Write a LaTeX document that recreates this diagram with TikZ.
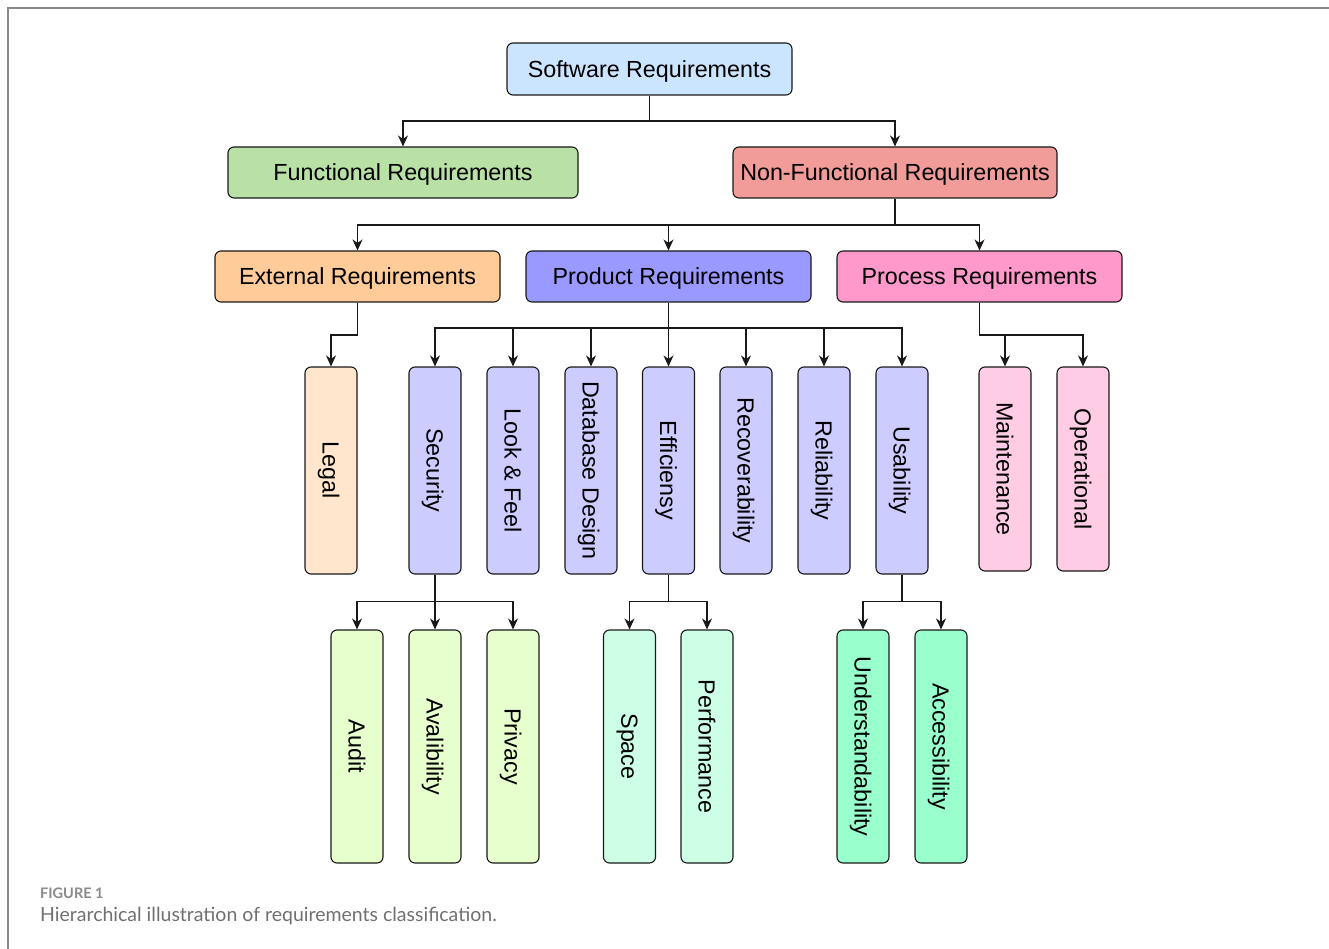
\documentclass[tikz,border=0pt]{standalone}
\usepackage{fontspec}
\setmainfont{Liberation Sans}
\newfontfamily\capfont{Lato}
\usetikzlibrary{arrows.meta}
\definecolor{cSW}{HTML}{CCE5FF}
\definecolor{cFR}{HTML}{B9E0A5}
\definecolor{cNF}{HTML}{F19C99}
\definecolor{cEX}{HTML}{FFCC99}
\definecolor{cPR}{HTML}{9999FF}
\definecolor{cPC}{HTML}{FF99CC}
\definecolor{cLG}{HTML}{FFE6CC}
\definecolor{cPD}{HTML}{CCCCFF}
\definecolor{cPS}{HTML}{FFCCE6}
\definecolor{cSC}{HTML}{E6FFCC}
\definecolor{cEF}{HTML}{CCFFE6}
\definecolor{cUS}{HTML}{99FFCC}
\definecolor{frameg}{HTML}{8A8A8A}
\definecolor{capg}{HTML}{707070}
\tikzset{
  lblfont/.style={font=\fontsize{23.3}{27}\selectfont},
  box/.style={draw=black!90, line width=1.1pt, rounded corners=6pt, inner sep=0pt,
    lblfont, text=black, text depth=0pt},
  hbox/.style={box, minimum width=285pt, minimum height=51pt},
  vbox/.style={box, minimum width=52pt},
  vl/.style={rotate=-90, lblfont, text depth=0pt},
  conn/.style={line width=1.3pt, draw=black!90, -{Stealth[length=11pt,width=10pt,inset=3.5pt]}},
}
\begin{document}
\begin{tikzpicture}[x=1pt,y=-1pt]
\useasboundingbox (0,0) rectangle (1329,949);
\fill[white] (0,0) rectangle (1329,949);
\draw[frameg, line width=2pt] (8,949) -- (8,8) -- (1329,8);

% level 0-2
\node[hbox, fill=cSW, minimum height=52pt] (sw) at (649.5,69) {Software Requirements};
\node[hbox, fill=cFR, minimum width=350pt] (fr) at (403,172.5) {Functional Requirements};
\node[hbox, fill=cNF, minimum width=324pt] (nf) at (895,172.5) {Non-Functional Requirements};
\node[hbox, fill=cEX] (ex) at (357.5,276.5) {External Requirements};
\node[hbox, fill=cPR] (pr) at (668.5,276.5) {Product Requirements};
\node[hbox, fill=cPC] (pc) at (979.5,276.5) {Process Requirements};

% level 3
\tikzset{r3/.style={vbox, minimum height=207pt}}
\node[r3, fill=cLG, label={[vl]center:Legal}] (lg) at (331,470.5) {};
\node[r3, fill=cPD, label={[vl]center:Security}] (se) at (435,470.5) {};
\node[r3, fill=cPD, label={[vl]center:Look \& Feel}] (lf) at (513,470.5) {};
\node[r3, fill=cPD, label={[vl]center:Database Design}] (db) at (591,470.5) {};
\node[r3, fill=cPD, label={[vl]center:Efficiensy}] (ef) at (668.5,470.5) {};
\node[r3, fill=cPD, label={[vl]center:Recoverability}] (rc) at (746,470.5) {};
\node[r3, fill=cPD, label={[vl]center:Reliability}] (rl) at (824,470.5) {};
\node[r3, fill=cPD, label={[vl]center:Usability}] (us) at (902,470.5) {};
\node[vbox, minimum height=204pt, fill=cPS, label={[vl]center:Maintenance}] (mt) at (1005,469) {};
\node[vbox, minimum height=204pt, fill=cPS, label={[vl]center:Operational}] (op) at (1083,469) {};

% level 4
\tikzset{r4/.style={vbox, minimum height=233pt}}
\node[r4, fill=cSC, label={[vl]center:Audit}] (au) at (357,746.5) {};
\node[r4, fill=cSC, label={[vl]center:Avalibility}] (av) at (435,746.5) {};
\node[r4, fill=cSC, label={[vl]center:Privacy}] (pv) at (513,746.5) {};
\node[r4, fill=cEF, label={[vl]center:Space}] (sp) at (629.5,746.5) {};
\node[r4, fill=cEF, label={[vl]center:Performance}] (pf) at (707,746.5) {};
\node[r4, fill=cUS, label={[vl]center:Understandability}] (ud) at (863,746.5) {};
\node[r4, fill=cUS, label={[vl]center:Accessibility}] (ac) at (941,746.5) {};

% bus levels
\coordinate (b0) at (0,121);
\coordinate (b1) at (0,225);
\coordinate (b2) at (0,335);
\coordinate (b3) at (0,328);
\coordinate (b4) at (0,335);
\coordinate (b5) at (0,601.5);

% connectors
\foreach \t in {fr,nf} \draw[conn] (sw.south) -- (sw.south |- b0) -| (\t.north);
\foreach \t in {ex,pr,pc} \draw[conn] (nf.south) -- (nf.south |- b1) -| (\t.north);
\draw[conn] (ex.south) -- (ex.south |- b2) -| (lg.north);
\foreach \t in {se,lf,db,ef,rc,rl,us} \draw[conn] (pr.south) -- (pr.south |- b3) -| (\t.north);
\foreach \t in {mt,op} \draw[conn] (pc.south) -- (pc.south |- b4) -| (\t.north);
\foreach \t in {au,av,pv} \draw[conn] (se.south) -- (se.south |- b5) -| (\t.north);
\foreach \t in {sp,pf} \draw[conn] (ef.south) -- (ef.south |- b5) -| (\t.north);
\foreach \t in {ud,ac} \draw[conn] (us.south) -- (us.south |- b5) -| (\t.north);

% caption
\node[anchor=west, inner sep=0pt, text=frameg, font=\capfont\bfseries\fontsize{14.5}{17}\selectfont] (figlbl) at (40,893.5) {FIGURE 1};
\node[anchor=west, inner sep=0pt, text=capg, font=\capfont\fontsize{19.5}{23}\selectfont] (figcap) at (40,916) {Hierarchical illustration of requirements classification.};
\end{tikzpicture}
\end{document}
